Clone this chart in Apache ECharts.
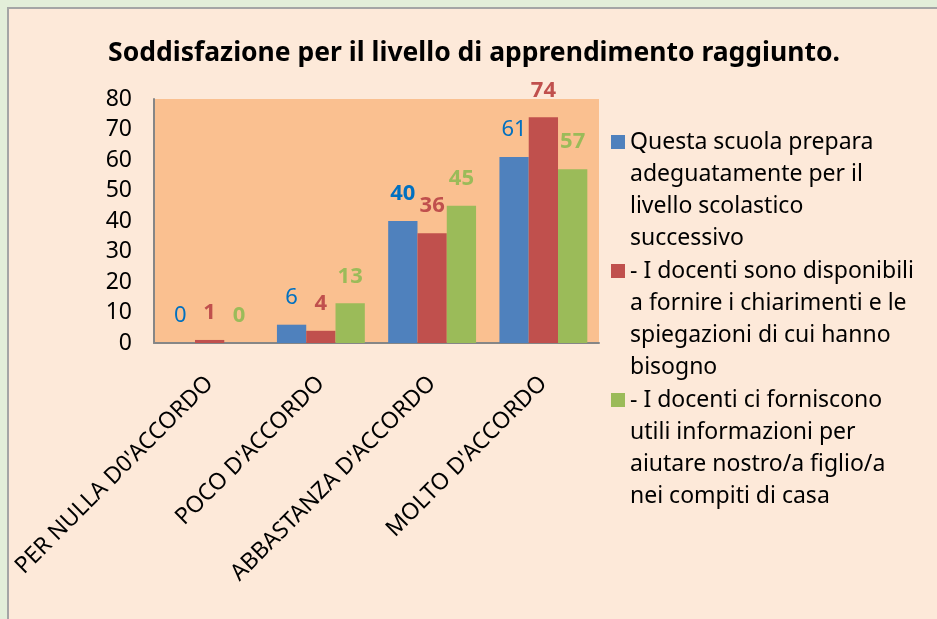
<!DOCTYPE html>
<html>
<head>
<meta charset="utf-8">
<script src="https://cdn.jsdelivr.net/npm/echarts@6/dist/echarts.min.js"></script>
<style>
    html, body { margin: 0; padding: 0; background: #e3eed9; }
    #chart {
        position: absolute; left: 7px; top: 7px;
        width: 930px; height: 612px;
        border-left: 2px solid #a5a5a5; border-top: 2px solid #a5a5a5;
    }
</style>
</head>
<body>
<div id="chart"></div>
<script>
// dati del grafico
const categories = ["PER NULLA D0'ACCORDO", "POCO D'ACCORDO", "ABBASTANZA D'ACCORDO", "MOLTO D'ACCORDO"]
const seriesNames = [
    'Questa scuola prepara\nadeguatamente per il\nlivello scolastico\nsuccessivo',
    '- I docenti sono disponibili\na fornire i chiarimenti e le\nspiegazioni di cui hanno\nbisogno',
    '- I docenti ci forniscono\nutili informazioni per\naiutare nostro/a figlio/a\nnei compiti di casa'
]
const scuolaPrepara = [0, 6, 40, 61]
const docentiDisponibili = [1, 4, 36, 74]
const docentiInformazioni = [0, 13, 45, 57]
const yMin = 0
const yMax = 80
const yStep = 10

const FONT = '"Noto Sans", sans-serif'
const LINE_H = 32
const chart = echarts.init(document.getElementById('chart'))

// icona legenda: quadratino allineato alla prima riga di un testo su 4 righe
const legendIcon = 'path://M0,0H0.1V0.1H0Z M0,9H14V23H0Z M0,127.9H0.1V128H0Z'

const barLabel = (color, weight) => ({
    show: true,
    position: 'top',
    distance: 16,
    color: color,
    fontSize: 22,
    fontWeight: weight,
    fontFamily: FONT
})

const option = {
    backgroundColor: '#fde9d9',
    animation: false,
    title: {
        text: 'Soddisfazione per il livello di apprendimento raggiunto.',
        left: 'center',
        top: 26,
        textStyle: { fontSize: 26.5, fontWeight: 'bold', color: '#000', fontFamily: FONT }
    },
    legend: {
        orient: 'vertical',
        left: 597,
        top: 112,
        itemWidth: 14,
        itemHeight: LINE_H * 4,
        itemGap: 1,
        icon: legendIcon,
        textStyle: {
            fontSize: 23,
            lineHeight: LINE_H,
            color: '#000',
            fontFamily: FONT
        },
        data: seriesNames
    },
    grid: { left: 145, top: 90, width: 445, height: 244, show: true, backgroundColor: '#fac090', borderWidth: 0 },
    xAxis: {
        type: 'category',
        data: categories,
        axisLine: { lineStyle: { color: '#868686', width: 2 } },
        axisTick: { show: false },
        axisLabel: {
            rotate: 45,
            margin: 37,
            interval: 0,
            color: '#000',
            fontSize: 23,
            fontFamily: FONT
        }
    },
    yAxis: {
        type: 'value',
        min: yMin,
        max: yMax,
        interval: yStep,
        axisLine: { show: true, lineStyle: { color: '#868686', width: 2 } },
        axisTick: { show: false },
        splitLine: { show: false },
        axisLabel: { color: '#000', fontSize: 23, margin: 22, fontFamily: FONT }
    },
    series: [
        {
            name: seriesNames[0],
            type: 'bar',
            barGap: 0,
            barCategoryGap: '21%',
            itemStyle: { color: '#4f81bd' },
            label: barLabel('#0070c0', 'normal'),
            data: scuolaPrepara.map((v, i) => i === 2 ? { value: v, label: { fontWeight: 'bold' } } : v)
        },
        {
            name: seriesNames[1],
            type: 'bar',
            itemStyle: { color: '#c0504d' },
            label: barLabel('#c0504d', 'bold'),
            data: docentiDisponibili
        },
        {
            name: seriesNames[2],
            type: 'bar',
            itemStyle: { color: '#9bbb59' },
            label: barLabel('#9bbb59', 'bold'),
            data: docentiInformazioni
        }
    ]
}

chart.setOption(option)
</script>
</body>
</html>
